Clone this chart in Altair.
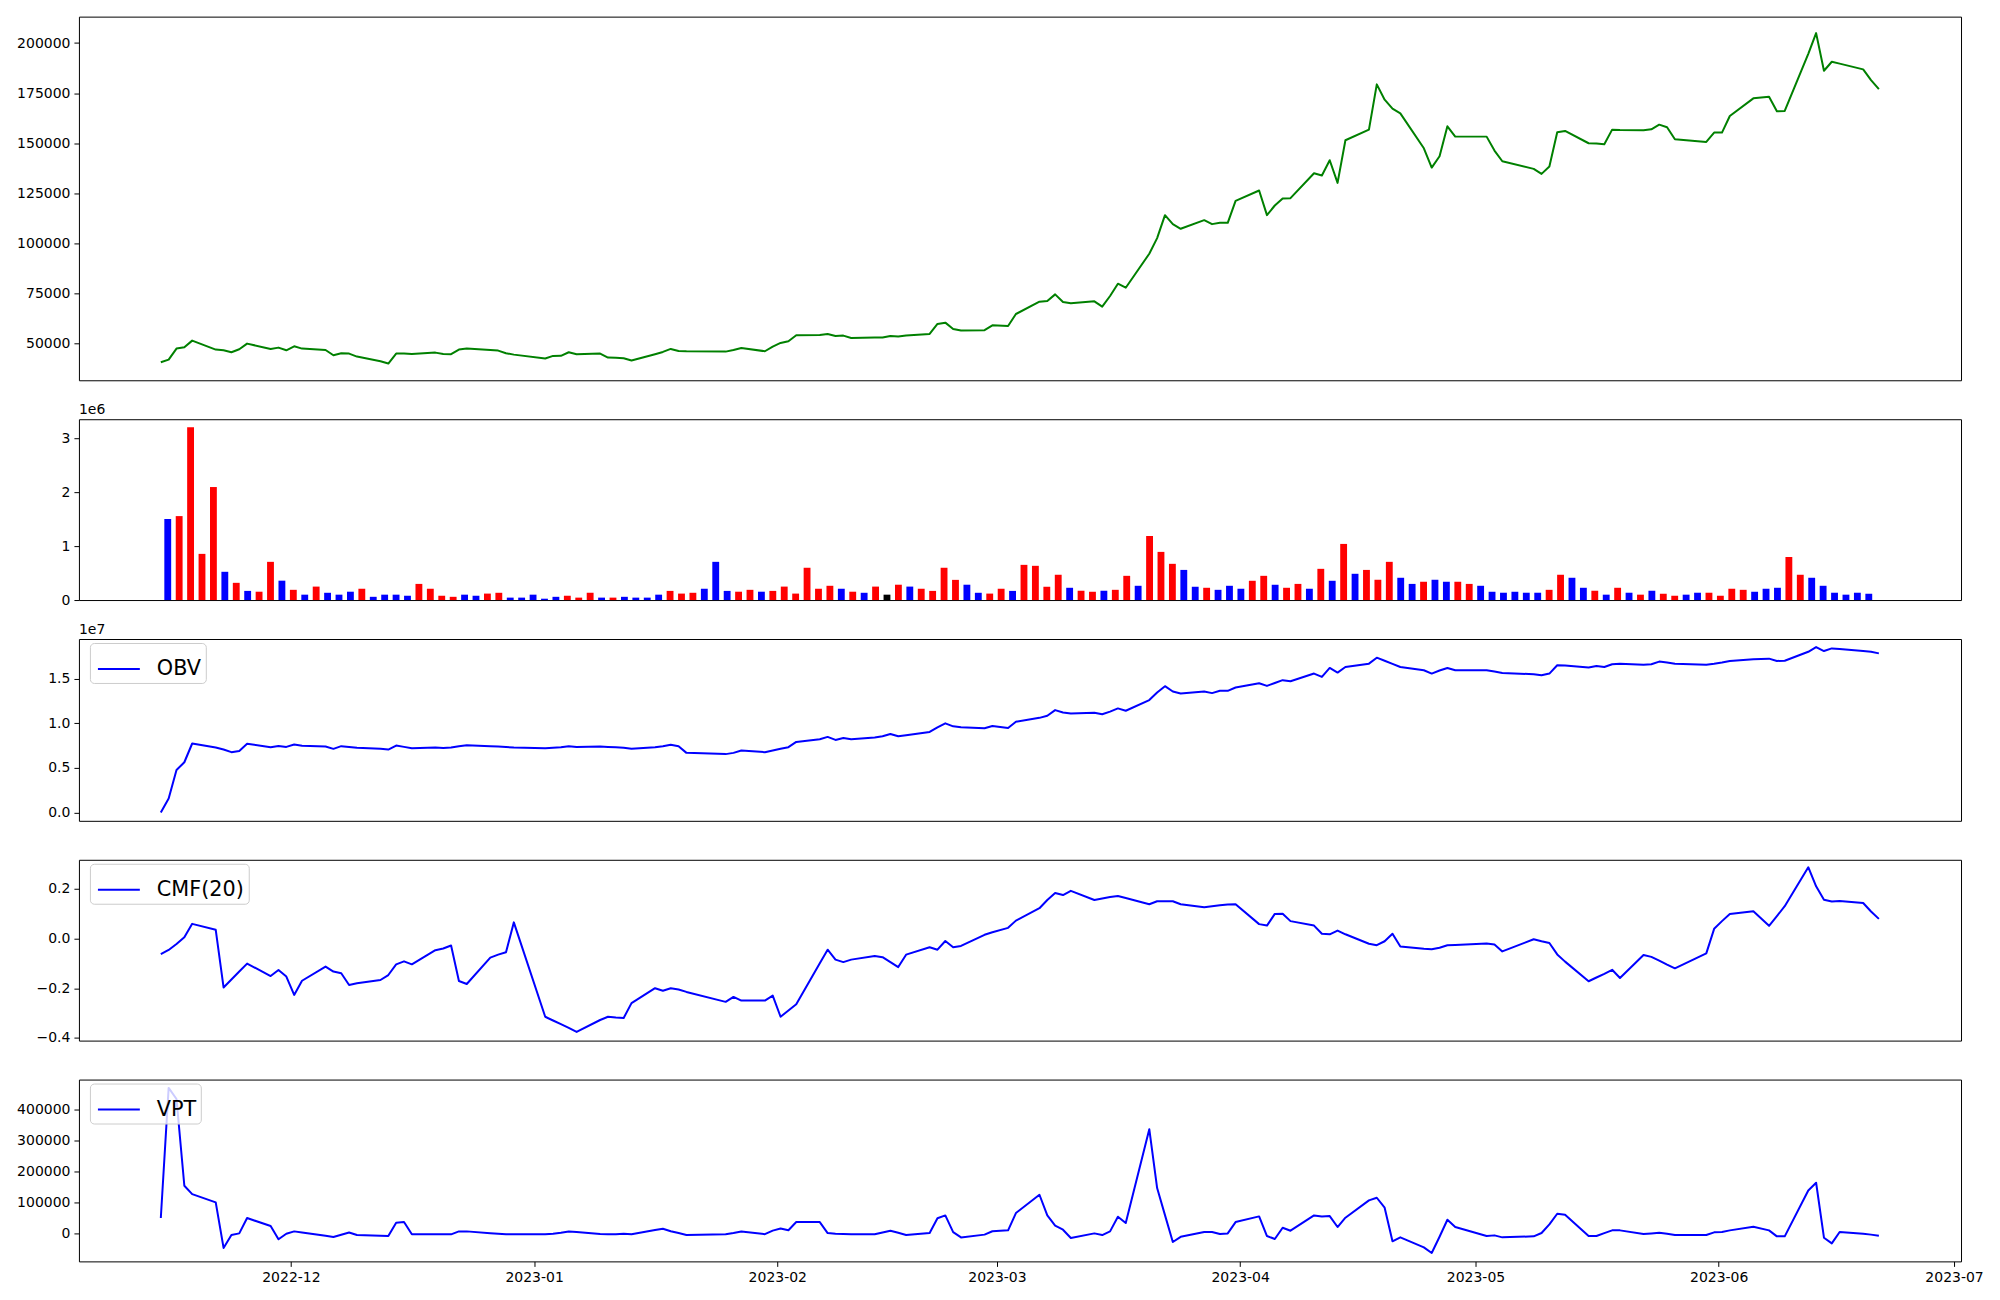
import altair as alt
import pandas as pd

# ---------------- data ----------------
holidays = ["2022-12-30", "2023-01-23", "2023-01-24", "2023-03-01",
            "2023-05-01", "2023-05-05", "2023-05-29", "2023-06-06"]
first_day, last_day = "2022-11-14", "2023-06-21"

close = [40680, 42030, 47510, 48160, 51490, 47010, 46660, 45660, 47160, 50000,
         47310, 48000, 46660, 48650, 47510, 46830, 44170, 45170, 45000, 43520,
         41180, 40030, 45020, 45100, 44820, 45500, 44830, 44700, 47010, 47510,
         46840, 46500, 45180, 44500, 42530, 43860, 43900, 45680, 44680, 45020,
         43020, 42950, 42690, 41530, 44700, 45850, 47340, 46350, 46180, 46000,
         46840, 47840, 46180, 48500, 50330, 51160, 54150, 54300, 54820, 53820,
         54000, 52820, 53000, 53000, 53820, 53500, 54000, 54820, 59800, 60460,
         57310, 56500, 56700, 59140, 58800, 64780, 70930, 71300, 74580, 70760,
         70100, 71100, 68440, 73750, 79900, 77900, 94850, 102650, 114110, 109630,
         107300, 111620, 109630, 110290, 110290, 121260, 126410, 114110, 118930, 122420,
         122590, 135040, 133880, 141520, 130230, 151490, 156800, 179390, 171750, 167270,
         164940, 147500, 137870, 143510, 158460, 153310, 153310, 146340, 141020, 137200,
         134710, 138370, 155480, 156140, 150000, 149830, 149500, 156800, 156640, 156470,
         156970, 159290, 157970, 151990, 150660, 155310, 155310, 163610, 172420, 173250,
         165940, 166110, 194660, 204970, 186200, 190690, 189750, 186870, 181550, 177060]

volume_m = [1.506, 1.56, 3.21, 0.858, 2.10, 0.525, 0.32, 0.17, 0.155, 0.71,
            0.36, 0.19, 0.10, 0.25, 0.135, 0.10, 0.155, 0.21, 0.06, 0.10,
            0.10, 0.08, 0.30, 0.21, 0.08, 0.06, 0.10, 0.08, 0.12, 0.135,
            0.045, 0.045, 0.10, 0.025, 0.06, 0.08, 0.045, 0.135, 0.045, 0.045,
            0.06, 0.045, 0.045, 0.10, 0.17, 0.12, 0.135, 0.21, 0.71, 0.17,
            0.155, 0.19, 0.155, 0.17, 0.25, 0.12, 0.60, 0.21, 0.265, 0.21,
            0.155, 0.135, 0.25, 0.10, 0.285, 0.25, 0.21, 0.17, 0.60, 0.375,
            0.285, 0.135, 0.12, 0.21, 0.17, 0.654, 0.636, 0.247, 0.47, 0.228,
            0.173, 0.154, 0.173, 0.19, 0.45, 0.265, 1.19, 0.895, 0.673, 0.56,
            0.247, 0.228, 0.19, 0.265, 0.21, 0.358, 0.45, 0.284, 0.228, 0.30,
            0.21, 0.58, 0.358, 1.043, 0.488, 0.56, 0.377, 0.71, 0.414, 0.30,
            0.34, 0.377, 0.34, 0.34, 0.30, 0.265, 0.154, 0.136, 0.154, 0.136,
            0.136, 0.19, 0.47, 0.414, 0.228, 0.173, 0.10, 0.228, 0.136, 0.10,
            0.173, 0.117, 0.08, 0.10, 0.136, 0.136, 0.08, 0.21, 0.19, 0.154,
            0.21, 0.228, 0.80, 0.47, 0.414, 0.265, 0.136, 0.10, 0.136, 0.117]

bar_colour = list("brrrrbrbrr" "brbrbbbrbb" "bbrrrrbbrr" "bbbbbrrrbr" "bbbbrrrbbb"
                  "rrbrrrrrrb" "rbrkrbrrrr" "bbrrbrrrrb" "rrbrrbrrrb" "brbbbrrbrr"
                  "brbrbrrrbb" "rbbrrbbbbb" "brrbbrbrbr" "brrbbrrrrb" "bbrrbbbbbb")

obv_e7 = [0.0, 0.156, 0.477, 0.563, 0.773, 0.728, 0.705, 0.676, 0.690, 0.769,
          0.732, 0.745, 0.735, 0.761, 0.748, 0.740, 0.713, 0.743, 0.735, 0.725,
          0.713, 0.705, 0.750, 0.735, 0.720, 0.728, 0.722, 0.728, 0.743, 0.754,
          0.743, 0.738, 0.733, 0.728, 0.720, 0.725, 0.730, 0.743, 0.735, 0.740,
          0.735, 0.730, 0.725, 0.713, 0.730, 0.742, 0.760, 0.743, 0.668, 0.654,
          0.668, 0.694, 0.676, 0.695, 0.715, 0.732, 0.791, 0.820, 0.847, 0.813,
          0.835, 0.820, 0.840, 0.854, 0.880, 0.854, 0.865, 0.902, 0.954, 0.999,
          0.965, 0.955, 0.943, 0.969, 0.947, 1.017, 1.060, 1.084, 1.147, 1.120,
          1.110, 1.118, 1.100, 1.130, 1.166, 1.140, 1.259, 1.344, 1.415, 1.355,
          1.333, 1.355, 1.337, 1.363, 1.363, 1.400, 1.448, 1.418, 1.450, 1.482,
          1.470, 1.556, 1.519, 1.619, 1.567, 1.630, 1.667, 1.734, 1.700, 1.665,
          1.630, 1.593, 1.556, 1.590, 1.619, 1.593, 1.593, 1.578, 1.563, 1.548,
          1.537, 1.556, 1.649, 1.645, 1.623, 1.640, 1.630, 1.660, 1.667, 1.656,
          1.660, 1.690, 1.680, 1.667, 1.656, 1.667, 1.680, 1.697, 1.715, 1.723,
          1.697, 1.700, 1.800, 1.853, 1.808, 1.838, 1.830, 1.808, 1.800, 1.782]

cmf = [-0.063, -0.046, -0.022, 0.005, 0.059, 0.035, -0.197, -0.165, -0.133, -0.101,
       -0.151, -0.127, -0.153, -0.227, -0.170, -0.113, -0.133, -0.140, -0.187, -0.180,
       -0.167, -0.147, -0.104, -0.092, -0.104, -0.047, -0.040, -0.028, -0.171, -0.183,
       -0.077, -0.065, -0.055, 0.065, -0.315, -0.330, -0.345, -0.360, -0.376, -0.328,
       -0.315, -0.318, -0.320, -0.260, -0.200, -0.210, -0.200, -0.205, -0.215, -0.255,
       -0.235, -0.250, -0.250, -0.230, -0.315, -0.290, -0.265, -0.100, -0.045, -0.085,
       -0.095, -0.085, -0.070, -0.075, -0.095, -0.115, -0.065, -0.035, -0.045, -0.010,
       -0.035, -0.030, 0.015, 0.025, 0.043, 0.072, 0.122, 0.155, 0.183, 0.175,
       0.192, 0.155, 0.161, 0.167, 0.171, 0.163, 0.138, 0.150, 0.150, 0.150,
       0.138, 0.126, 0.130, 0.134, 0.137, 0.138, 0.058, 0.052, 0.099, 0.100,
       0.070, 0.052, 0.019, 0.017, 0.032, 0.017, -0.021, -0.027, -0.011, 0.019,
       -0.032, -0.041, -0.043, -0.037, -0.027, -0.026, -0.020, -0.024, -0.052, -0.003,
       -0.011, -0.018, -0.064, -0.093, -0.172, -0.157, -0.142, -0.126, -0.159, -0.066,
       -0.074, -0.089, -0.105, -0.120, -0.060, 0.039, 0.070, 0.099, 0.110, 0.051,
       0.090, 0.130, 0.287, 0.210, 0.156, 0.149, 0.151, 0.143, 0.109, 0.079]

vpt = [50500, 470800, 435000, 154800, 128000, 101000, -46000, -4300, 1000, 50500,
       24700, -18000, 0, 7500, 4000, -6800, -10750, -3400, 4000, -4300,
       -6700, -7500, 35500, 37600, -2000, -2000, -2000, -2000, 7500, 7500,
       1500, 0, -2000, -2000, -2000, 0, 3000, 7000, 5500, -1000,
       -2000, -1500, 0, -1500, 12000, 16000, 8000, 2000, -4000, -2000,
       2000, 7000, -1500, 10000, 17000, 11000, 37600, 37600, 2000, 0,
       -1000, -1500, -2000, 4000, 9700, 3000, -4000, 2000, 50000, 59100,
       5000, -12000, -3000, 8000, 10750, 66650, 125800, 59100, 25800, 12900,
       -14000, 1000, -4300, 7500, 54800, 34400, 337500, 147300, 60000, -26900,
       -10000, 5400, 5400, -1000, 1000, 37600, 55900, -7500, -17200, 19350,
       9700, 59100, 55900, 57000, 21500, 51600, 107500, 116100, 83900, -24700,
       -11800, -44100, -62350, -10000, 45150, 21500, -7500, -5400, -11800, -8600,
       2150, 30000, 64500, 61300, -7500, -7500, 2000, 10750, 10750, -1000,
       1000, 3200, 0, -4300, -4300, 4300, 5400, 10750, 22600, 10750,
       -8600, -8600, 139750, 164500, -12900, -31200, 5400, 0, -3000, -6450]

month_ticks = ["2022-12-01", "2023-01-01", "2023-02-01", "2023-03-01",
               "2023-04-01", "2023-05-01", "2023-06-01", "2023-07-01"]

# ---------------- tables ----------------
days = [d for d in pd.bdate_range(first_day, last_day) if d.strftime("%Y-%m-%d") not in holidays]
ms = [int((d + pd.Timedelta(hours=10)).value // 10**6) for d in days]
lines = pd.DataFrame({"t": ms, "close": close, "obv": obv_e7, "cmf": cmf, "vpt": vpt,
                      "s_obv": "OBV", "s_cmf": "CMF(20)", "s_vpt": "VPT"})
bars = pd.DataFrame({"i": list(range(len(volume_m))), "vol": volume_m, "c": bar_colour})


def utc_ms(s):
    return int(pd.Timestamp(s).value // 10**6)


x_dom = [utc_ms("2022-11-03T23:30:00"), utc_ms("2023-07-01T21:20:00")]
tick_ms = [utc_ms(s) for s in month_ticks]

W = 1884
FONT = "DejaVu Sans"


def xenc(show=False):
    if show:
        ax = alt.Axis(values=tick_ms, format="%Y-%m", title=None, labelFontSize=14,
                      tickSize=5, labelPadding=4, labelFont=FONT, labelColor="black",
                      domain=False, tickColor="black", grid=False)
    else:
        ax = None
    return alt.X("t:T", scale=alt.Scale(type="utc", domain=x_dom), axis=ax)


def yaxis(values, fmt):
    return alt.Axis(values=values, format=fmt, title=None, labelFontSize=14, labelFont=FONT,
                    labelColor="black", tickSize=5, tickColor="black", labelPadding=4,
                    domain=False, grid=False)


def legend_for(name):
    return alt.Legend(orient="none", legendX=11, legendY=4, title=None,
                      labelFontSize=20.8, labelFont=FONT, labelColor="black",
                      symbolType="stroke", symbolSize=1760, symbolStrokeWidth=2,
                      symbolOffset=3, labelOffset=16, padding=4, strokeColor="#cccccc",
                      fillColor="rgba(255,255,255,0.8)", cornerRadius=4)


def offset_text(txt):
    return alt.Chart(pd.DataFrame({"txt": [txt]})).mark_text(
        align="left", baseline="alphabetic", fontSize=14, font=FONT, color="black"
    ).encode(x=alt.value(0), y=alt.value(-5), text="txt:N")


# panel 1: price
p1 = alt.Chart(lines).mark_line(color="green", strokeWidth=2, strokeJoin="round").encode(
    x=xenc(),
    y=alt.Y("close:Q", scale=alt.Scale(domain=[31700, 213200], nice=False, zero=False),
            axis=yaxis([50000, 75000, 100000, 125000, 150000, 175000, 200000], "d")),
).properties(width=W, height=364)

# panel 2: volume bars
p2b = alt.Chart(bars).transform_calculate(
    x0="datum.i - 0.3", x1="datum.i + 0.3"
).mark_bar().encode(
    x=alt.X("x0:Q", scale=alt.Scale(domain=[-7.78, 157.08], nice=False, zero=False), axis=None),
    x2="x1:Q",
    y=alt.Y("vol:Q", scale=alt.Scale(domain=[0, 3.36], nice=False),
            axis=yaxis([0, 1, 2, 3], "d")),
    y2=alt.datum(0),
    color=alt.Color("c:N", scale=alt.Scale(domain=["r", "b", "k"], range=["red", "blue", "black"]),
                    legend=None),
)
p2 = alt.layer(p2b, offset_text("1e6")).properties(width=W, height=181)


def ind_panel(field, sname, ydom, yvals, fmt, h, show_x=False, text=None):
    ln = alt.Chart(lines).mark_line(strokeWidth=2, strokeJoin="round").encode(
        x=xenc(show_x),
        y=alt.Y(f"{field}:Q", scale=alt.Scale(domain=ydom, nice=False, zero=False),
                axis=yaxis(yvals, fmt)),
        color=alt.Color(f"{sname}:N", scale=alt.Scale(range=["blue"]), legend=legend_for(sname)),
    )
    layers = [ln]
    if text:
        layers.append(offset_text(text))
    return alt.layer(*layers).properties(width=W, height=h)


p3 = ind_panel("obv", "s_obv", [-0.093, 1.943], [0.0, 0.5, 1.0, 1.5], ".1f", 182, text="1e7")
p4 = ind_panel("cmf", "s_cmf", [-0.411, 0.317], [-0.4, -0.2, 0.0, 0.2], ".1f", 181)
p5 = ind_panel("vpt", "s_vpt", [-89400, 497800], [0, 100000, 200000, 300000, 400000], "d", 182,
               show_x=True)

chart = alt.vconcat(p1, p2, p3, p4, p5, spacing=39, bounds="flush").properties(
    padding={"left": 8, "top": 7, "right": 8, "bottom": 0},
    background="white",
).resolve_scale(color="independent", x="independent").configure_view(
    stroke="black", strokeWidth=1
).configure_axis(labelFont=FONT)

chart.save("out.html", embed_options={"renderer": "svg", "actions": False})
